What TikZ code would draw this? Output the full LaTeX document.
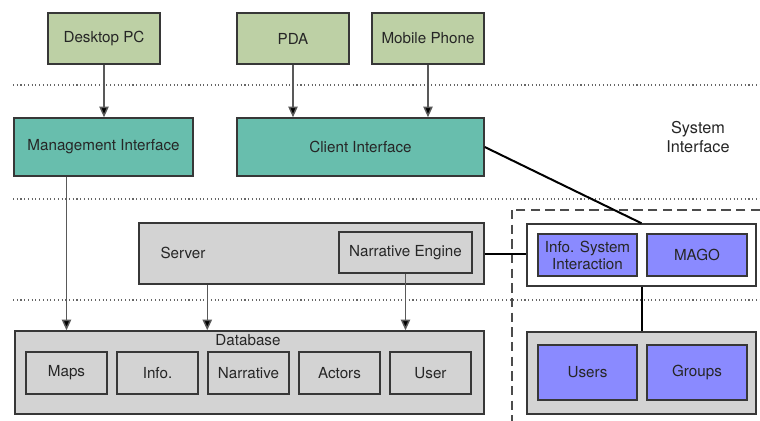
\documentclass[tikz,border=0pt]{standalone}
\usepackage{fontspec}
\setmainfont{TeX Gyre Heros}
\usetikzlibrary{arrows.meta}

\definecolor{devgreen}{RGB}{189,208,165}
\definecolor{ifteal}{RGB}{104,190,173}
\definecolor{srvgray}{RGB}{211,211,211}
\definecolor{magoblue}{RGB}{138,138,255}
\definecolor{edge}{RGB}{55,55,55}

\tikzset{
  box/.style={draw=edge, line width=1.1pt, inner sep=0pt, align=center,
    font=\fontsize{11.4}{12.8}\selectfont, text=black!85},
  device/.style={box, fill=devgreen, minimum width=84pt, minimum height=38.25pt},
  iface/.style={box, fill=ifteal, minimum height=43.5pt},
  table/.style={box, fill=srvgray, minimum width=60.75pt, minimum height=31.5pt},
  agent/.style={box, fill=magoblue, minimum width=74.25pt},
  arr/.style={draw=black!65, line width=1.1pt, -{Triangle[width=7pt,length=8pt,fill=black]}},
  link/.style={draw=black, line width=1.5pt},
  layer/.style={draw=black!60, line width=0.8pt, dotted},
}

\begin{document}
\begin{tikzpicture}[x=0.75pt, y=-0.75pt]
  \useasboundingbox (0,0) rectangle (760,421);
  \clip (0,0) rectangle (760,421);

  % Draw layer separators
  \draw[layer] (13,85) -- (760,85);
  \draw[layer] (13,199) -- (760,199);
  \draw[layer] (13,300) -- (760,300);

  % Draw dashed frame of the MAGO side
  \draw[draw=black!70, line width=1.1pt, dash pattern=on 7pt off 4pt] (512,210) rectangle (780,440);

  % Devices
  \node[device] (desktop) at (104,38.5) {Desktop PC};
  \node[device] (pda) at (293,38.5) {PDA};
  \node[device] (mobile) at (428,38.5) {Mobile Phone};

  % Interfaces
  \node[iface, minimum width=134.25pt] (mgmt) at (103.5,147) {Management Interface};
  \node[iface, minimum width=185.25pt] (client) at (360.5,147) {Client Interface};
  \node[font=\fontsize{12.2}{14.5}\selectfont, align=center, text=black!85] (sysif) at (698,137) {System\\Interface};

  % Server with its narrative engine
  \node[box, fill=srvgray, minimum width=258.75pt, minimum height=45.75pt] (server) at (311.5,253.5) {};
  \node[font=\fontsize{11.4}{12.8}\selectfont, text=black!85] (srvlabel) at (183,253) {Server};
  \node[box, fill=srvgray, minimum width=99.75pt, minimum height=30.75pt] (engine) at (405.5,252.5) {Narrative Engine};

  % Database and its tables
  \node[box, fill=srvgray, minimum width=351.75pt, minimum height=62.25pt] (db) at (249.5,372.5) {};
  \node[font=\fontsize{11.4}{12.8}\selectfont, text=black!85] (dblabel) at (248,340) {Database};
  \node[table] (maps) at (66.5,373) {Maps};
  \node[table] (info) at (157.5,373) {Info.};
  \node[table] (narr) at (248.5,373) {Narrative};
  \node[table] (actors) at (339.5,373) {Actors};
  \node[table] (user) at (430.5,373) {User};

  % MAGO agents
  \node[box, fill=white, minimum width=171.75pt, minimum height=46.5pt] (magobox) at (641.5,255) {};
  \node[agent, minimum height=31.5pt] (infosys) at (587.5,255) {Info. System\\Interaction};
  \node[agent, minimum height=31.5pt, minimum width=75pt] (mago) at (697,255) {MAGO};
  \node[box, fill=srvgray, minimum width=171.75pt, minimum height=61.5pt] (groupbox) at (641.5,373) {};
  \node[agent, minimum height=41.25pt] (users) at (587.5,372.5) {Users};
  \node[agent, minimum height=41.25pt, minimum width=75pt] (groups) at (697,372.5) {Groups};

  % Draw arrows between layers
  \draw[arr] (desktop.south) -- (desktop.south |- mgmt.north);
  \draw[arr] (pda.south) -- (pda.south |- client.north);
  \draw[arr] (mobile.south) -- (mobile.south |- client.north);
  \draw[arr] (maps |- mgmt.south) -- (maps |- db.north);
  \draw[arr] (narr.west |- server.south) -- (narr.west |- db.north);
  \draw[arr] (engine.south) -- (engine.south |- db.north);

  % Draw links to the MAGO side
  \draw[link] (client.east) -- (magobox.north);
  \draw[link] (server.east) -- (server.east -| magobox.west);
  \draw[link] (magobox.south) -- (groupbox.north);
\end{tikzpicture}
\end{document}
